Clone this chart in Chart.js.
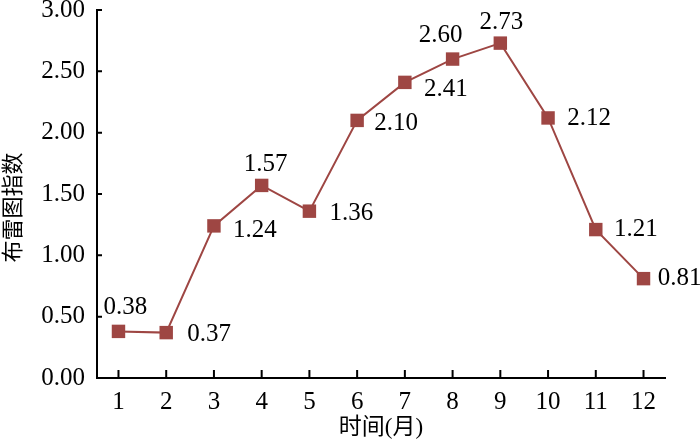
<!DOCTYPE html>
<html>
<head>
<meta charset="utf-8">
<script src="https://cdn.jsdelivr.net/npm/chart.js@4/dist/chart.umd.min.js"></script>
<style>
  html, body { margin: 0; padding: 0; background: #fff; }
  #wrap { width: 700px; height: 445px; position: relative; }
</style>
</head>
<body>
<div id="wrap"><canvas id="breteauChart"></canvas></div>
<script>
// months on the x axis
const months = [1, 2, 3, 4, 5, 6, 7, 8, 9, 10, 11, 12];
// Breteau index per month
const breteauIndex = [0.38, 0.37, 1.24, 1.57, 1.36, 2.10, 2.41, 2.60, 2.73, 2.12, 1.21, 0.81];
// y axis ticks
const yTicks = [0, 0.5, 1, 1.5, 2, 2.5, 3];

// where each value label sits relative to its marker (dx, dy in px)
const labelOffsets = [
  [7, -24], [43, 2], [41, 5], [4, -21], [42, 2], [39, 3],
  [41, 7], [-12, -24], [1, -21], [41, 0], [40, 0], [36, 0]
];

const serif = "'Liberation Serif', 'Times New Roman', serif";
const cjk = "'Liberation Serif', 'Noto Sans CJK SC', serif";
const lineColor = '#9E4643';
const yTitle = '布雷图指数';

// value labels next to each point
const valueLabels = {
  id: 'valueLabels',
  afterDatasetsDraw(chart) {
    const ctx = chart.ctx;
    const meta = chart.getDatasetMeta(0);
    ctx.save();
    ctx.font = `25px ${serif}`;
    ctx.fillStyle = '#000';
    ctx.textAlign = 'center';
    ctx.textBaseline = 'middle';
    meta.data.forEach((pt, i) => {
      const [dx, dy] = labelOffsets[i];
      ctx.fillText(breteauIndex[i].toFixed(2), pt.x + dx, pt.y + dy);
    });
    ctx.restore();
  }
};

// small tick marks pointing into the plot, plus the y axis title
// (the original title sits a bit below the middle of the axis)
const axisExtras = {
  id: 'axisExtras',
  afterDraw(chart) {
    const ctx = chart.ctx;
    const x = chart.scales.x, y = chart.scales.y;
    ctx.save();
    ctx.strokeStyle = '#000';
    ctx.lineWidth = 2;
    ctx.beginPath();
    months.forEach(m => {
      const px = x.getPixelForValue(m);
      ctx.moveTo(px, y.bottom);
      ctx.lineTo(px, y.bottom - 8);
    });
    yTicks.forEach(v => {
      const py = y.getPixelForValue(v);
      ctx.moveTo(x.left, py);
      ctx.lineTo(x.left + 5, py);
    });
    ctx.stroke();

    ctx.translate(14, y.getPixelForValue(1.39));
    ctx.rotate(-Math.PI / 2);
    ctx.font = `22px ${cjk}`;
    ctx.fillStyle = '#000';
    ctx.textAlign = 'center';
    ctx.textBaseline = 'middle';
    ctx.fillText(yTitle, 0, 0);
    ctx.restore();
  }
};

new Chart(document.getElementById('breteauChart'), {
  type: 'line',
  data: {
    datasets: [{
      data: months.map((m, i) => ({ x: m, y: breteauIndex[i] })),
      borderColor: lineColor,
      backgroundColor: lineColor,
      borderWidth: 2,
      pointStyle: 'rect',
      pointRadius: 9.5,
      pointHoverRadius: 9.5,
      pointBorderWidth: 0,
      tension: 0
    }]
  },
  options: {
    responsive: true,
    maintainAspectRatio: false,
    animation: false,
    layout: { padding: { top: 10, right: 35, left: 0, bottom: 0 } },
    plugins: {
      legend: { display: false },
      tooltip: { enabled: false }
    },
    scales: {
      x: {
        type: 'linear',
        min: 0.55,
        max: 12.45,
        afterBuildTicks: scale => { scale.ticks = months.map(v => ({ value: v })); },
        afterFit: scale => { scale.height = 67; },
        grid: { display: true, drawOnChartArea: false, drawTicks: false },
        border: { display: true, color: '#000', width: 2 },
        ticks: {
          color: '#000',
          padding: 9,
          font: { family: serif, size: 25 },
          callback: v => String(v)
        },
        title: {
          display: true,
          text: '时间(月)',
          color: '#000',
          padding: { top: 0, bottom: 3 },
          font: { family: cjk, size: 23 }
        }
      },
      y: {
        min: 0,
        max: 3,
        afterBuildTicks: scale => { scale.ticks = yTicks.map(v => ({ value: v })); },
        afterFit: scale => { scale.width = 97; scale.paddingTop = 0; },
        grid: { display: true, drawOnChartArea: false, drawTicks: false },
        border: { display: true, color: '#000', width: 2 },
        ticks: {
          color: '#000',
          padding: 12,
          font: { family: serif, size: 25 },
          callback: v => v.toFixed(2)
        }
      }
    }
  },
  plugins: [valueLabels, axisExtras]
});
</script>
</body>
</html>
